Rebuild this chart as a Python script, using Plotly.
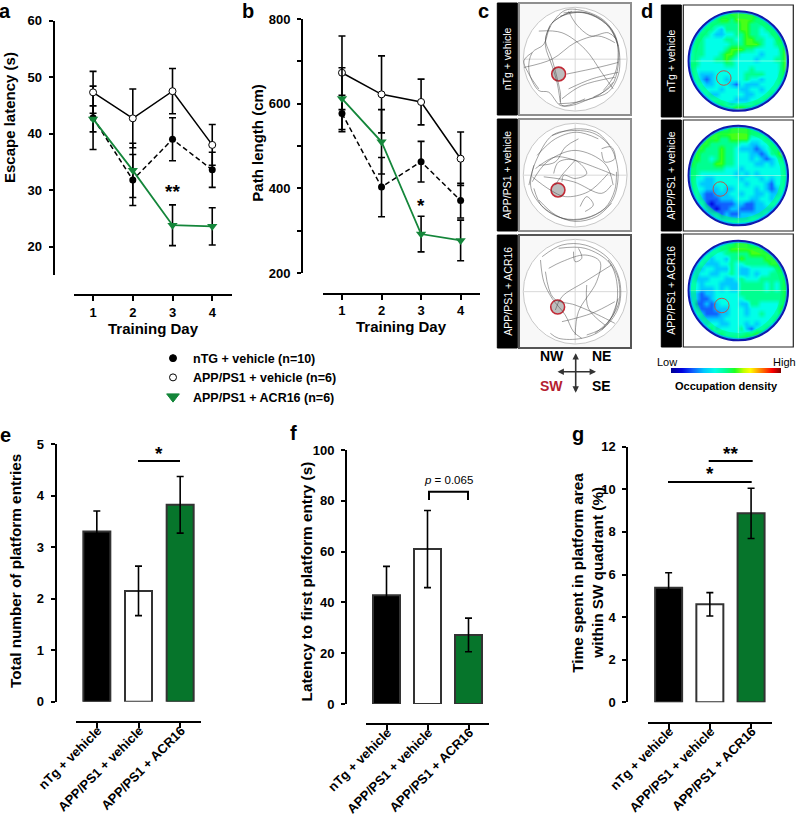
import plotly.graph_objects as go

W, H = 799, 817
FONT = "Liberation Sans"
GREEN_LINE = "#14863a"
GREEN_BAR = "#06752b"
DAYS = [1, 2, 3, 4]
GROUPS = ["nTg + vehicle", "APP/PS1 + vehicle", "APP/PS1 + ACR16"]
LEGEND_NAMES = ["nTG + vehicle (n=10)", "APP/PS1 + vehicle (n=6)", "APP/PS1 + ACR16 (n=6)"]

# panel a: escape latency (s)
a_ntg = [42.8, 31.8, 39.0, 33.6]
a_ntg_err = [5.6, 4.5, 3.8, 3.1]
a_app = [47.3, 42.7, 47.5, 38.0]
a_app_err = [3.7, 5.2, 4.0, 3.6]
a_acr = [42.6, 33.5, 23.8, 23.6]
a_acr_err = [2.3, 4.8, 3.6, 3.3]

# panel b: path length (cm)
b_ntg = [577, 403, 463, 371]
b_ntg_err = [43, 70, 48, 41]
b_app = [673, 622, 604, 470]
b_app_err = [87, 91, 54, 63]
b_acr = [612, 510, 292, 277]
b_acr_err = [73, 76, 42, 48]

# panels e, f, g: bars
e_vals = [3.3, 2.15, 3.82]
e_errs = [0.4, 0.48, 0.55]
f_vals = [42.8, 61.0, 27.2]
f_errs = [11.4, 15.2, 6.6]
g_vals = [5.38, 4.6, 8.87]
g_errs = [0.7, 0.55, 1.18]

# panel c: swim paths, read in crop coordinates of each 339 x 339 arena tile
c1_paths = [
    [(125,310),(90,270),(60,265),(30,205),(40,150),(75,125),(95,70),(140,22),(200,25),(260,55),(295,110),(305,165),(300,220),(270,270),(215,290),(160,310),(125,310)],
    [(125,300),(115,240),(100,190),(80,130),(85,90),(100,60),(160,25)],
    [(15,195),(100,170),(170,120),(240,100),(290,120)],
    [(60,85),(130,90),(200,140),(250,210),(285,260)],
    [(145,215),(240,195),(300,180)],
    [(150,260),(220,230),(300,210)],
    [(130,290),(190,250),(290,225)],
    [(150,25),(170,60),(200,90),(220,100),(270,90),(295,110)],
    [(40,150),(15,175),(30,215),(60,260)],
    [(95,70),(80,110),(100,170),(125,270),(130,310),(200,290)],
    [(125,40),(190,28),(250,50),(290,95),(300,150),(290,215),(255,265)],
    [(100,60),(150,30),(215,35),(275,75),(300,130)],
    [(135,30),(205,30),(265,65),(298,125),(300,190),(280,250),(225,285)],
    [(120,305),(175,300),(240,280),(285,240)],
]
c2_paths = [
    [(30,200),(50,130),(100,50),(160,35),(230,45),(280,90),(300,170),(280,250),(220,295),(150,305),(90,280),(50,240),(35,200),(45,140)],
    [(45,210),(70,265),(130,300),(200,300),(260,270),(290,215),(295,160)],
    [(105,165),(120,130),(170,125),(205,165),(170,180),(135,170),(130,190)],
    [(75,175),(165,190),(250,225),(280,200)],
    [(40,175),(95,215),(140,235),(210,220),(270,165)],
    [(185,265),(205,235),(225,260),(200,280)],
    [(250,90),(280,85),(290,120),(260,130),(250,100)],
    [(50,150),(110,115),(170,125),(240,150),(290,170)],
    [(180,60),(140,85),(110,130),(60,140)],
    [(100,50),(170,30),(235,40),(275,80)],
    [(170,125),(130,170),(110,200)],
    [(40,190),(85,130),(170,95),(260,135),(285,200)],
    [(60,245),(110,290),(170,310),(235,295),(280,255)],
    [(55,110),(110,60),(175,40),(240,60)],
]
c3_paths = [
    [(65,75),(75,140),(100,190),(140,240),(165,290),(190,310)],
    [(70,65),(130,30),(200,30),(270,70),(305,140),(300,220),(250,285),(190,310),(120,310),(95,295)],
    [(110,225),(130,185),(200,140),(280,90)],
    [(90,100),(130,80),(200,60),(245,80),(235,140),(180,230),(170,300)],
    [(165,50),(170,80),(190,70),(180,40)],
    [(205,150),(210,220),(260,270)],
    [(130,260),(220,235),(290,200)],
    [(80,110),(105,190),(170,210),(240,240),(290,265)],
    [(120,40),(200,40),(275,85),(298,160),(285,240),(230,295)],
    [(250,285),(300,210),(300,130),(270,75)],
    [(205,300),(265,270),(300,190)],
]

# panel d: occupation density, one digit per cell (tenths of the colour range)
d1_rows = [
    "44444455666666554444", "44444566566665555444", "44445555556655555544", "44455435556655455554",
    "44554334455655445565", "45544445545665544565", "45544444555666544556", "45544445666554444457",
    "45544456654444344457", "45444556544443444557", "55444445544444444457", "54444444444454444457",
    "54333444444555544456", "54323443444544344455", "54433444324333444456", "44444434443344344456",
    "44443344444334445566", "44444444433344455544", "44445554344445555444", "44444566677666544444",
]
d2_rows = [
    "44444555666655544444", "45556666666655555554", "55566655666644455555", "55665555554433445555",
    "56655565543332345566", "56555565544433235575", "56554565544434323455", "65555665544443343445",
    "55555554443444444445", "55444444434343444445", "54433444443444343445", "54333444444344432445",
    "54433343344443432345", "54322333443443343345", "54322233344433443445", "54421222233223344445",
    "44432122332223333445", "44433323223333344445", "44544433333344445544", "44455555554555555444",
]
d3_rows = [
    "44444445566655544444", "44444455666666655544", "44444445555566666544", "44443443556555566654",
    "44433344544555556665", "43344333543344444566", "43443344543343445556", "43334443345444555556",
    "44344433335555545456", "44333434335555545456", "33233444445555555556", "33223444444555555556",
    "42232344443355444456", "43222333444344444466", "44322233444344544465", "44333334444444444565",
    "44434433444343444665", "45555344445324456654", "44565554444556666544", "44455555556666555444",
]
JET = [[0, "#000090"], [.1, "#0000e0"], [.2, "#1060ff"], [.3, "#00c8ff"], [.4, "#00ffe8"], [.5, "#00ff90"],
       [.58, "#20ff20"], [.66, "#c0ff00"], [.72, "#ffff00"], [.82, "#ff8000"], [.92, "#ff0000"], [1, "#800000"]]


def fx(p): return p / W
def fy(p): return 1 - p / H

fig = go.Figure()
layout = {}
annotations = []
shapes = []
axis_n = [0]


def ann(x, y, text, size=13, bold=True, color="black", rot=0, anchor="center"):
    annotations.append(dict(xref="paper", yref="paper", x=fx(x), y=fy(y), text=text, showarrow=False,
                            xanchor=anchor, yanchor="middle", textangle=rot,
                            font=dict(family=FONT, size=size, color=color, weight=700 if bold else 400)))


def rect(x0, y0, x1, y1, fill="black", line=None, lw=1, layer="below"):
    shapes.append(dict(type="rect", xref="paper", yref="paper", x0=fx(x0), x1=fx(x1), y0=fy(y1), y1=fy(y0),
                       fillcolor=fill, line=dict(color=line or fill, width=lw), layer=layer))


def hline(x0, x1, y, lw=2):
    shapes.append(dict(type="line", xref="paper", yref="paper", x0=fx(x0), x1=fx(x1), y0=fy(y), y1=fy(y),
                       line=dict(color="black", width=lw), layer="above"))


def new_axes(xdom, ydom, xcfg, ycfg):
    axis_n[0] += 1
    n = axis_n[0]
    sfx = "" if n == 1 else str(n)
    xc = dict(domain=[fx(xdom[0]), fx(xdom[1])], fixedrange=True, showgrid=False, zeroline=False)
    yc = dict(domain=[fy(ydom[1]), fy(ydom[0])], fixedrange=True, showgrid=False, zeroline=False)
    xc.update(xcfg)
    yc.update(ycfg)
    layout["xaxis" + sfx] = xc
    layout["yaxis" + sfx] = yc
    return "x" + sfx, "y" + sfx


TICKFONT = dict(family=FONT, size=13, color="black", weight=700)


def chart_axes(xdom, ydom, xline_y, yline_x, xr, yr, yvals, ytext, xvals, xtext, xfont=TICKFONT, xangle=0, standoff=0, shift=0):
    xcfg = dict(range=xr, anchor="free", position=fy(xline_y), side="bottom", showline=True, linecolor="black",
                linewidth=2, ticks="outside", ticklen=5, tickwidth=2, tickcolor="black",
                tickmode="array", tickvals=xvals, ticktext=xtext, tickfont=xfont, tickangle=xangle,
                ticklabelstandoff=standoff, ticklabelshift=shift)
    ycfg = dict(range=yr, anchor="free", position=fx(yline_x), side="left", showline=True, linecolor="black",
                linewidth=2, ticks="outside", ticklen=4, tickwidth=2, tickcolor="black",
                tickmode="array", tickvals=yvals, ticktext=ytext, tickfont=TICKFONT, ticklabelstandoff=4)
    return new_axes(xdom, ydom, xcfg, ycfg)


def err(vals):
    return dict(type="data", array=vals, visible=True, color="black", thickness=1.6, width=3.5)


def add_lines(xa, ya, ntg, ntg_e, app, app_e, acr, acr_e):
    fig.add_trace(go.Scatter(x=DAYS, y=ntg, error_y=err(ntg_e), mode="lines+markers", xaxis=xa, yaxis=ya,
                             line=dict(color="black", width=1.5, dash="5px,3px"),
                             marker=dict(color="black", size=7), showlegend=False))
    fig.add_trace(go.Scatter(x=DAYS, y=app, error_y=err(app_e), mode="lines+markers", xaxis=xa, yaxis=ya,
                             line=dict(color="black", width=1.5),
                             marker=dict(color="white", size=7, line=dict(color="black", width=1)), showlegend=False))
    fig.add_trace(go.Scatter(x=DAYS, y=acr, error_y=err(acr_e), mode="lines+markers", xaxis=xa, yaxis=ya,
                             line=dict(color=GREEN_LINE, width=1.8),
                             marker=dict(color=GREEN_LINE, size=9, symbol="triangle-down"), showlegend=False))


# panel a
xa, ya = chart_axes((74, 231.7), (20.5, 275), 295, 53.5, [0.52, 4.49], [15, 60],
                    [20, 30, 40, 50, 60], ["20", "30", "40", "50", "60"], DAYS, [str(d) for d in DAYS])
add_lines(xa, ya, a_ntg, a_ntg_err, a_app, a_app_err, a_acr, a_acr_err)

# panel b
xb, yb = chart_axes((323, 480), (19, 273), 293.5, 302, [0.52, 4.49], [200, 800],
                    [200, 300, 400, 500, 600, 700, 800], ["200", "", "400", "", "600", "", "800"],
                    DAYS, [str(d) for d in DAYS])
add_lines(xb, yb, b_ntg, b_ntg_err, b_app, b_app_err, b_acr, b_acr_err)

# legend-only entries
for name, sym, col, size, lc in zip(LEGEND_NAMES, ["circle", "circle", "triangle-down"],
                                    ["black", "white", GREEN_LINE], [7, 7, 11], ["black", "black", GREEN_LINE]):
    fig.add_trace(go.Scatter(x=[None], y=[None], name=name, mode="markers", xaxis=xa, yaxis=ya,
                             marker=dict(symbol=sym, color=col, size=size, line=dict(color=lc, width=1))))

# bars
BAR_FONT = dict(family=FONT, size=13, color="black", weight=700)
BAR_COLORS = ["black", "white", GREEN_BAR]


def add_bars(xdom, ydom, xline_y, yline_x, yr, yvals, vals, errs):
    sp = (xdom[1] - xdom[0]) / 3.0
    xab, yab = chart_axes(xdom, ydom, xline_y, yline_x, [0.5, 3.5], yr, yvals, [str(v) for v in yvals],
                          [1, 2, 3], GROUPS, xfont=BAR_FONT, xangle=-45, standoff=-10, shift=1)
    fig.add_trace(go.Bar(x=[1, 2, 3], y=vals, width=27 / sp, error_y=err(errs), xaxis=xab, yaxis=yab,
                         marker=dict(color=BAR_COLORS, line=dict(color="#333333", width=2)), showlegend=False))


add_bars((76, 201), (444, 701.7), 722, 55.5, [0, 5], [0, 1, 2, 3, 4, 5], e_vals, e_errs)
add_bars((366, 489), (450, 704), 724, 346, [0, 100], [0, 20, 40, 60, 80, 100], f_vals, f_errs)
add_bars((648, 771.7), (446.7, 702.3), 722.7, 627.3, [0, 12], [0, 2, 4, 6, 8, 10, 12], g_vals, g_errs)


def circle(xr, yr, cx, cy, r, fill=None, line=None, lw=1, layer="below"):
    shapes.append(dict(type="circle", xref=xr, yref=yr, x0=cx - r, x1=cx + r, y0=cy - r, y1=cy + r,
                       fillcolor=fill or "rgba(0,0,0,0)", line=dict(color=line or "rgba(0,0,0,0)", width=lw), layer=layer))


# panel c: arenas
c_tiles = [((519, 631), (3, 115), c1_paths, (170, 170), (120, 215), "#8f8f8f"),
           ((519, 631), (119, 231), c2_paths, (170, 170), (118, 215), "#8f8f8f"),
           ((519, 631), (235, 348), c3_paths, (170, 170), (117, 216), "#555555")]
for (xd, yd, paths, cen, plat, edge), g_lab in zip(c_tiles, GROUPS):
    rect(497.3, yd[0], 517.3, yd[1])
    ann(507.3, (yd[0] + yd[1]) / 2, g_lab, size=10.5, bold=False, color="white", rot=-90)
    rect(xd[0], yd[0], xd[1], yd[1], fill="#f8f8f8", line=edge, lw=2)
    xr, yr = new_axes(xd, yd, dict(range=[0, 339], visible=False), dict(range=[339, 0], visible=False))
    circle(xr, yr, cen[0], cen[1], 157, fill="white", line="#c8c8c8", lw=1)
    shapes.append(dict(type="line", xref=xr, yref=yr, x0=cen[0] - 157, x1=cen[0] + 157, y0=cen[1], y1=cen[1],
                       line=dict(color="#d8d8d8", width=1), layer="below"))
    shapes.append(dict(type="line", xref=xr, yref=yr, x0=cen[0], x1=cen[0], y0=cen[1] - 157, y1=cen[1] + 157,
                       line=dict(color="#d8d8d8", width=1), layer="below"))
    circle(xr, yr, plat[0], plat[1], 21, fill="#bdbdbd", line="#c22a36", lw=1.6)
    for p in paths:
        fig.add_trace(go.Scatter(x=[q[0] for q in p], y=[q[1] for q in p], mode="lines", xaxis=xr, yaxis=yr,
                                 line=dict(color="rgba(70,70,70,.7)", width=0.7, shape="spline", smoothing=1),
                                 showlegend=False, hoverinfo="skip"))


def ring_mask(r, R):
    k = 0.5523 * r
    return (f"M {-R} {-R} L {R} {-R} L {R} {R} L {-R} {R} Z "
            f"M {r} 0 C {r} {-k} {k} {-r} 0 {-r} C {-k} {-r} {-r} {-k} {-r} 0 "
            f"C {-r} {k} {-k} {r} 0 {r} C {k} {r} {r} {k} {r} 0 Z")


# panel d: density maps
d_tiles = [((683.3, 793.3), (5, 117), d1_rows, (-0.29, -0.34)),
           ((683.3, 793.3), (120, 231), d2_rows, (-0.36, -0.27)),
           ((683.3, 793.3), (234, 347), d3_rows, (-0.33, -0.3))]
for (xd, yd, rows, plat), g_lab in zip(d_tiles, GROUPS):
    rect(661.3, yd[0], 681.3, yd[1])
    ann(671.3, (yd[0] + yd[1]) / 2, g_lab, size=10.5, bold=False, color="white", rot=-90)
    xr, yr = new_axes(xd, yd, dict(range=[-1.1, 1.1], visible=False),
                      dict(range=[-(yd[1] - yd[0]) / 100, (yd[1] - yd[0]) / 100], visible=False))
    R = 1.2
    z = [[int(c) / 10 for c in row] for row in rows]
    centers = [-0.95 + 0.1 * i for i in range(20)]
    fig.add_trace(go.Heatmap(z=z, x=centers, y=[-c for c in centers], coloraxis="coloraxis", zsmooth="best",
                             xaxis=xr, yaxis=yr, hoverinfo="skip", showscale=False))
    shapes.append(dict(type="line", xref=xr, yref=yr, x0=-1, x1=1, y0=0, y1=0,
                       line=dict(color="rgba(220,255,230,.5)", width=1), layer="above"))
    shapes.append(dict(type="line", xref=xr, yref=yr, x0=0, x1=0, y0=-1, y1=1,
                       line=dict(color="rgba(220,255,230,.5)", width=1), layer="above"))
    circle(xr, yr, 0, 0, 0.9, line="rgba(0,255,90,.45)", lw=5, layer="above")
    circle(xr, yr, 0, 0, 0.965, line="rgba(0,170,255,.8)", lw=1.5, layer="above")
    circle(xr, yr, plat[0], plat[1], 0.145, line="rgba(205,70,60,.9)", lw=1, layer="above")
    shapes.append(dict(type="path", xref=xr, yref=yr, path=ring_mask(1.0, R), fillcolor="white",
                       line=dict(width=0), layer="above"))
    circle(xr, yr, 0, 0, 0.995, line="#1018b0", lw=2, layer="above")
    rect(xd[0], yd[0], xd[1], yd[1], fill="rgba(0,0,0,0)", line="#222222", lw=1.2, layer="above")

# compass
for (ex, ey, dx, dy) in [(596, 371.7, -40, 0), (575.7, 392.7, 0, -41)]:
    annotations.append(dict(xref="paper", yref="paper", x=fx(ex), y=fy(ey), ax=dx, ay=dy, text="", showarrow=True,
                            arrowhead=2, arrowside="end+start", arrowsize=0.8, arrowwidth=1.6, arrowcolor="#333333",
                            standoff=0, startstandoff=0))
ann(552, 356, "NW", size=14)
ann(601, 356, "NE", size=14)
ann(551, 386, "SW", size=14, color="#b5202f")
ann(601, 386, "SE", size=14)

# colour bar text
ann(667, 362, "Low", size=11, bold=False)
ann(784, 362, "High", size=11, bold=False)
ann(726.7, 386, "Occupation density", size=11)

# axis titles
ann(9, 118, "Escape latency (s)", size=15, rot=-90)
ann(256.7, 143, "Path length (cm)", size=15, rot=-90)
ann(153, 328, "Training Day", size=15)
ann(401.7, 326.7, "Training Day", size=15)
ann(15, 571, "Total number of platform entries", size=15.3, rot=-90)
ann(306.7, 581.7, "Latency to first platform entry (s)", size=15.3, rot=-90)
ann(576.7, 573, "Time spent in platform area", size=15.3, rot=-90)
ann(596.7, 573, "within SW quadrant (%)", size=15.3, rot=-90)

# panel letters
for t, x, y in [("a", 5, 11), ("b", 248, 11), ("c", 483, 11), ("d", 647, 11), ("e", 5, 435), ("f", 293, 433), ("g", 578, 434)]:
    ann(x, y, t, size=20)

# significance
ann(172, 192, "**", size=19)
ann(420.7, 205, "*", size=19)
ann(159, 453, "*", size=19)
ann(730.7, 453, "**", size=19)
ann(709.7, 473, "*", size=19)
hline(138, 180, 461)
hline(668, 751.7, 482)
hline(708.7, 752.7, 461)
ann(448, 480, "<i>p</i> = 0.065", size=11.5, bold=False)
shapes.append(dict(type="path", xref="paper", yref="paper",
                   path=f"M {fx(429)} {fy(500)} L {fx(429)} {fy(491.7)} L {fx(468)} {fy(491.7)} L {fx(468)} {fy(500)}",
                   line=dict(color="black", width=2), layer="above"))

fig.update_layout(
    width=W, height=H, margin=dict(l=0, r=0, t=0, b=0, autoexpand=False), autosize=False,
    paper_bgcolor="white", plot_bgcolor="rgba(0,0,0,0)", showlegend=True, hovermode=False,
    font=dict(family=FONT),
    legend=dict(x=fx(153), y=fy(343.5), xanchor="left", yanchor="top", bgcolor="rgba(0,0,0,0)",
                font=dict(family=FONT, size=12.5, color="black", weight=700), itemwidth=30, tracegroupgap=0),
    coloraxis=dict(colorscale=JET, cmin=0, cmax=1,
                   colorbar=dict(orientation="h", x=fx(671), xanchor="left", y=fy(372.7), yanchor="bottom",
                                 len=110 / W, lenmode="fraction", thickness=5, outlinewidth=0, borderwidth=0,
                                 showticklabels=False, ticks="", xpad=0, ypad=0)),
    annotations=annotations, shapes=shapes, **layout,
)
fig.write_html("out.html", config={"displayModeBar": False},
               post_script="document.body.style.margin='0';document.body.style.overflow='hidden';")
